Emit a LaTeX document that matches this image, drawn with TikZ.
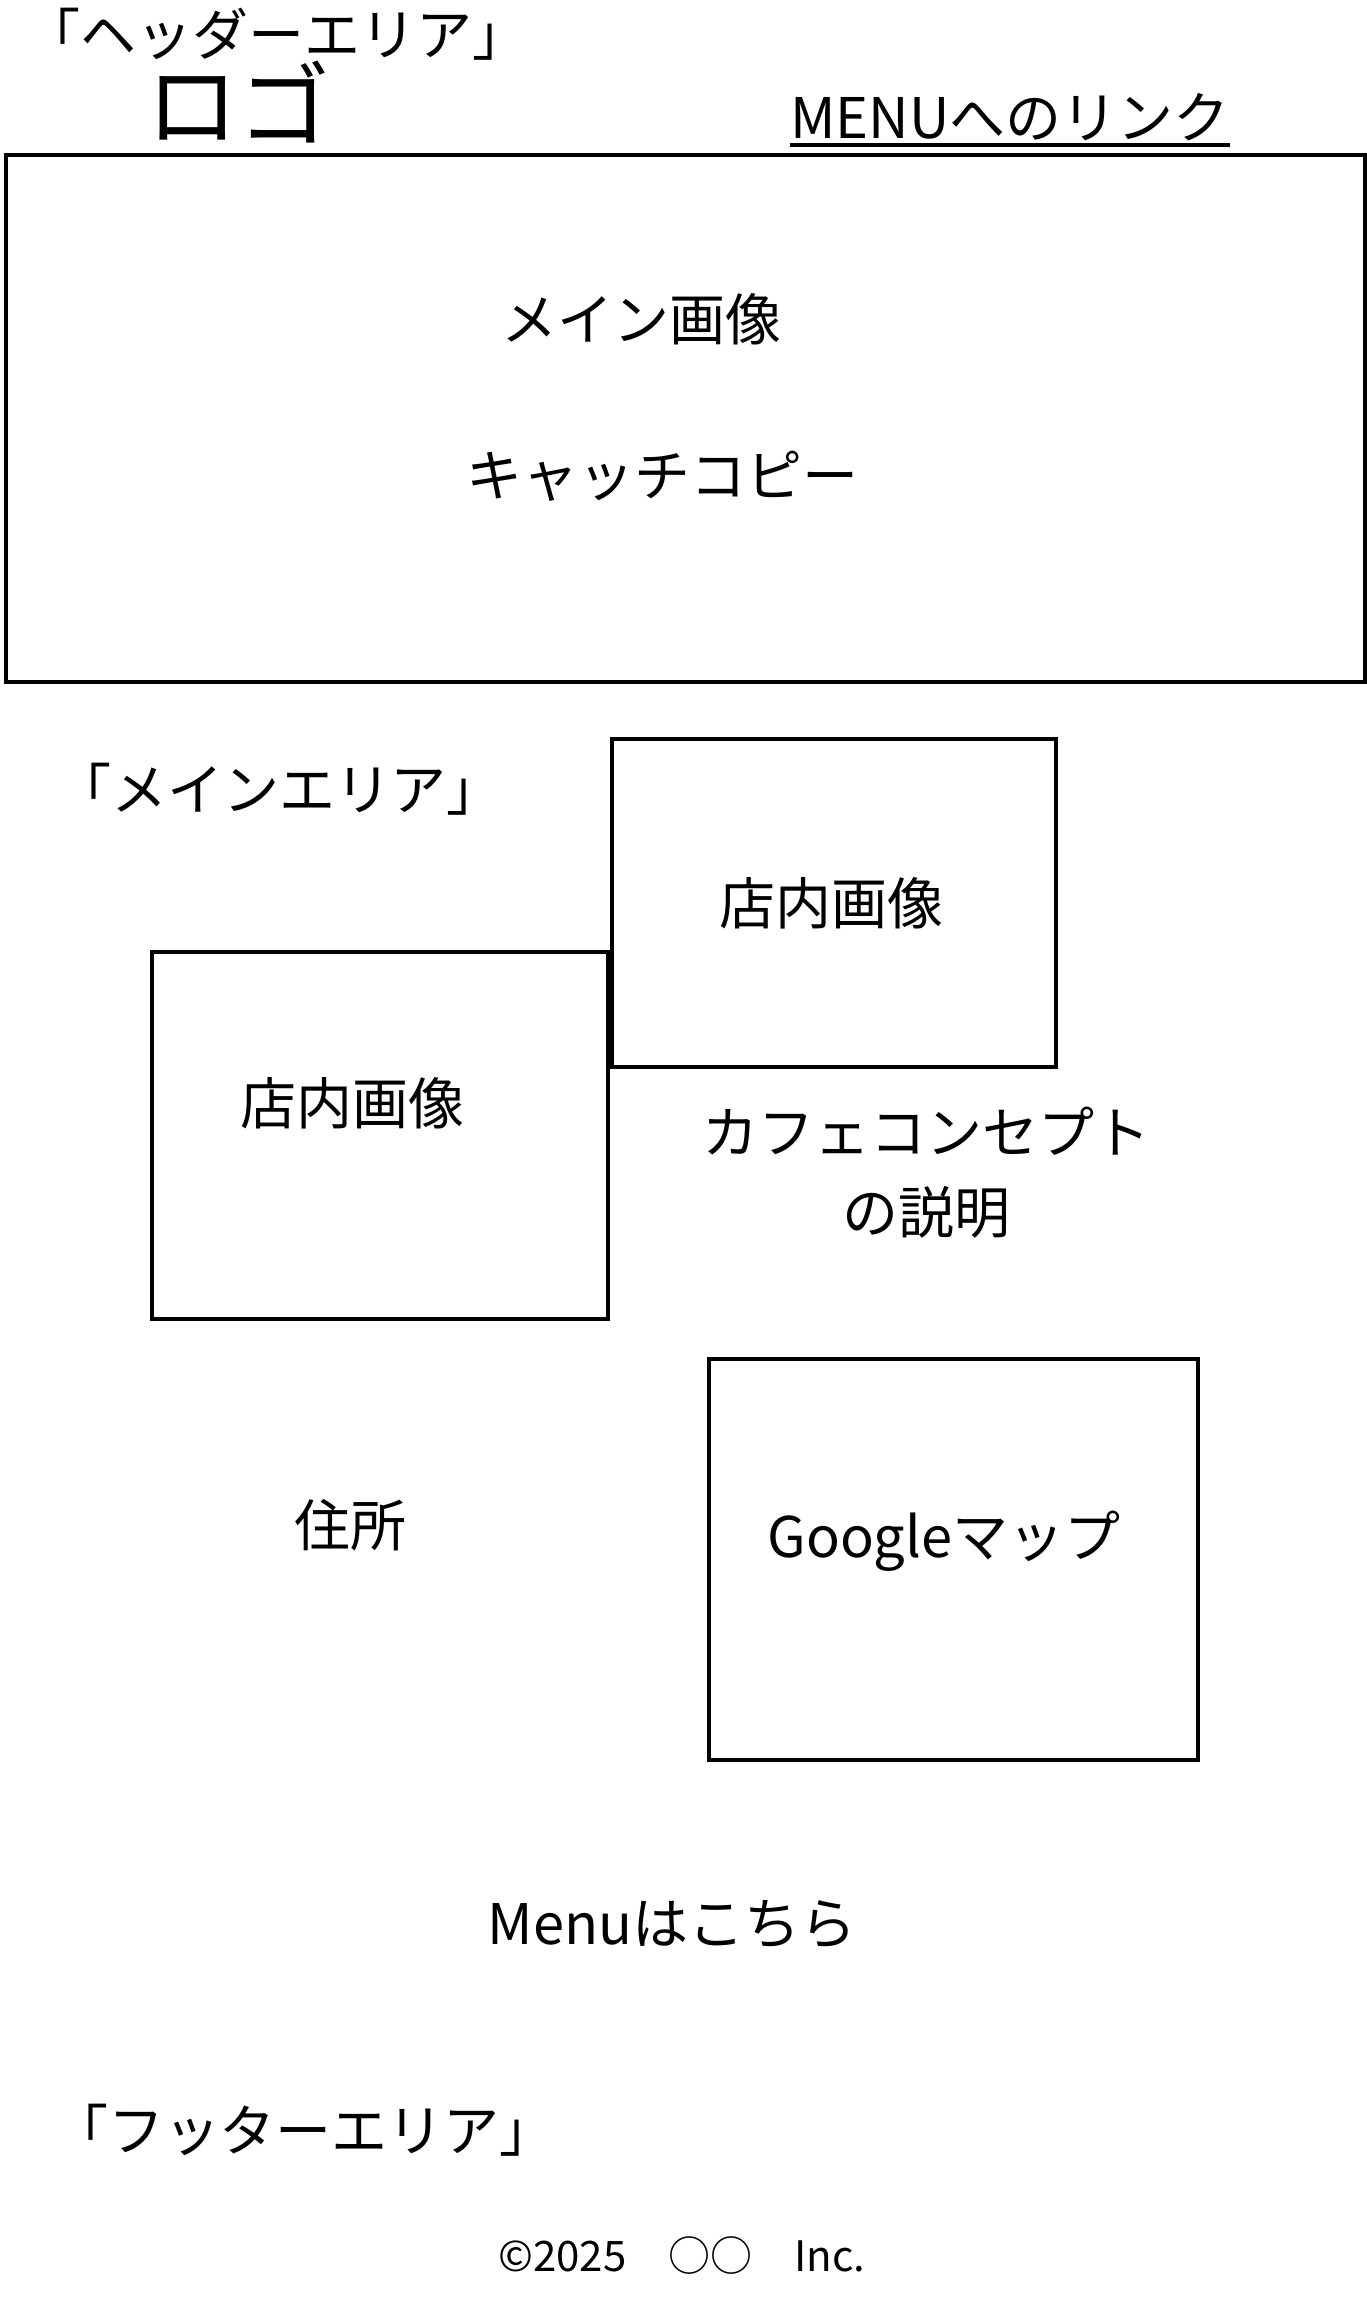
\documentclass[tikz,border=0pt]{standalone}
\usepackage{fontspec}
\setmainfont{Noto Sans CJK JP}
\tikzset{
  lbl/.style={inner sep=0pt, anchor=base},
  box/.style={draw=black, line width=3.6pt, inner sep=0pt, anchor=north west},
}
\newcommand{\fs}[1]{\fontsize{#1}{#1}\selectfont}
\begin{document}
\begin{tikzpicture}[x=1pt,y=-1pt]
\useasboundingbox (0,0) rectangle (1366,2319);
% header
\node[lbl, font=\fs{56}] (hdr) at (276,55) {「ヘッダーエリア」};
\node[lbl, font=\fs{92}] (logo) at (238,139) {ロゴ};
\node[lbl, font=\fs{56}] (menu) at (1010,138) {MENUへのリンク};
\draw[line width=4pt] ([yshift=-7pt]menu.base west) -- ([yshift=-7pt]menu.base east);
% main visual
\node[box, minimum width=1359pt, minimum height=527pt] (hero) at (4,153) {};
\node[lbl, font=\fs{56}] (mainimg) at (641,340) {メイン画像};
\node[lbl, font=\fs{56}] (catch) at (662,496) {キャッチコピー};
% main area
\node[lbl, font=\fs{56}] (mainlbl) at (279,810) {「メインエリア」};
\node[box, minimum width=444pt, minimum height=328pt] (shop1) at (610,737) {};
\node[lbl, font=\fs{56}] (shop1t) at (831,924) {店内画像};
\node[box, minimum width=456pt, minimum height=367pt] (shop2) at (150,950) {};
\node[lbl, font=\fs{56}] (shop2t) at (352,1124) {店内画像};
\node[inner sep=0pt, align=center, font=\fontsize{56}{80}\selectfont] (concept) at (926,1173) {カフェコンセプト\\の説明};
\node[lbl, font=\fs{56}] (addr) at (350,1546) {住所};
\node[box, minimum width=489pt, minimum height=401pt] (map) at (707,1357) {};
\node[lbl, font=\fs{56}] (mapt) at (944,1557) {Googleマップ};
\node[lbl, font=\fs{56}] (menulink) at (672,1944) {Menuはこちら};
% footer
\node[lbl, font=\fs{56}] (ftr) at (304,2151) {「フッターエリア」};
\node[lbl, font=\fs{42}] (copy) at (682,2271) {©2025　○○　Inc.};
\end{tikzpicture}
\end{document}
